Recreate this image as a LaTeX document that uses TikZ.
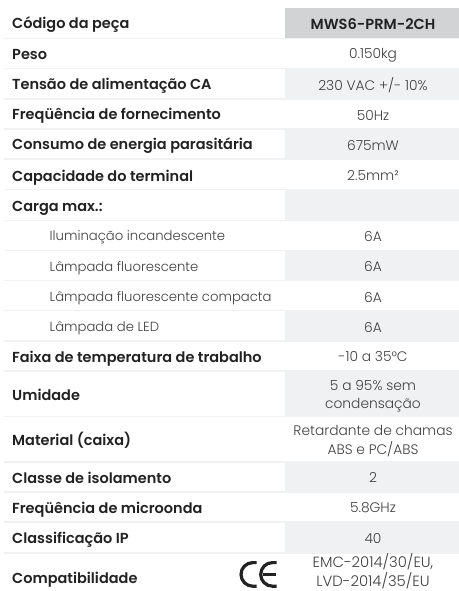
\documentclass[tikz,border=0pt]{standalone}
\usepackage{fontspec}
\setmainfont{Poppins SemiBold}[BoldFont={Poppins SemiBold}]
\newfontfamily\lightf{Poppins Light}
\definecolor{rowgray}{HTML}{F0F1F3}
\definecolor{headgray}{HTML}{D2D3D5}
\definecolor{labelc}{HTML}{222222}
\definecolor{valuec}{HTML}{404040}
\tikzset{
  lab/.style={anchor=base west,inner sep=0pt,text=labelc,font=\fontsize{14.5bp}{15bp}\selectfont},
  sub/.style={anchor=base west,inner sep=0pt,text=valuec,font=\fontsize{13.2bp}{15bp}\selectfont\lightf},
  val/.style={anchor=center,inner sep=0pt,text=valuec,align=center,font=\fontsize{13.8bp}{18.5bp}\selectfont\lightf},
  head/.style={anchor=center,inner sep=0pt,text=labelc,align=center,font=\fontsize{14.6bp}{15bp}\selectfont},
  compl/.style={anchor=center,inner sep=0pt,text=valuec,align=center,font=\fontsize{14.8bp}{19bp}\selectfont\lightf},
  sep/.style={rowgray,line width=1.4bp},
  shade/.style={fill=rowgray,draw=none},
}
\begin{document}
\begin{tikzpicture}[x=1bp,y=-1bp]
\useasboundingbox (0,0) rectangle (459,591);
\fill[white] (0,0) rectangle (459,591);
% shaded cells
\fill[headgray] (285,8) rectangle (459,38.5);
\foreach \a/\b in {69/99,129/159,189/220,250/280,311/341,371/416,462/492,522/553}
  \fill[shade] (285,\a) rectangle (459,\b);
% separators
\foreach \yy in {38.8,68.8,99,129,159,189.3,220.3,250.3,280.3,310.7,341,371,416.3,461.8,492,522,552.8}
  \draw[sep] (4,\yy) -- (459,\yy);
% labels
\node[lab] (l1) at (12,29) {Código da peça};
\node[lab] (l2) at (12,60) {Peso};
\node[lab] (l3) at (12,90) {Tensão de alimentação CA};
\node[lab] (l4) at (12,120) {Freqüência de fornecimento};
\node[lab] (l5) at (12,150) {Consumo de energia parasitária};
\node[lab] (l6) at (12,181) {Capacidade do terminal};
\node[lab] (l7) at (12,211) {Carga max.:};
\node[sub] (l8) at (49.5,240) {Iluminação incandescente};
\node[sub] (l9) at (49.5,271) {Lâmpada fluorescente};
\node[sub] (l10) at (49.5,301) {Lâmpada fluorescente compacta};
\node[sub] (l11) at (49.5,331) {Lâmpada de LED};
\node[lab] (l12) at (12,362) {Faixa de temperatura de trabalho};
\node[lab] (l13) at (12,400) {Umidade};
\node[lab] (l14) at (12,445) {Material (caixa)};
\node[lab] (l15) at (12,483) {Classe de isolamento};
\node[lab] (l16) at (12,513) {Freqüência de microonda};
\node[lab] (l18) at (12,543) {Classificação IP};
\node[lab] (l17) at (12,583) {Compatibilidade};
% values
\node[head] (v1) at (373,24) {MWS6-PRM-2CH};
\node[val] (v2) at (373,55.5) {0.150kg};
\node[val] (v3) at (373,85.5) {230 VAC +/- 10\%};
\node[val] (v4) at (373,115.5) {50Hz};
\node[val] (v5) at (373,145.5) {675mW};
\node[val] (v6) at (373,176) {2.5mm²};
\node[val] (v8) at (373,236) {6A};
\node[val] (v9) at (373,266.5) {6A};
\node[val] (v10) at (373,297) {6A};
\node[val] (v11) at (373,327) {6A};
\node[val] (v12) at (373,357) {-10 a 35°C};
\node[val] (v13) at (373,396) {5 a 95\% sem\\condensação};
\node[val] (v14) at (373,441) {Retardante de chamas\\ABS e PC/ABS};
\node[val] (v15) at (373,477) {2};
\node[val] (v16) at (373,508) {5.8GHz};
\node[val] (v17) at (373,538) {40};
\node[compl] (v18) at (373,571) {EMC-2014/30/EU,\\LVD-2014/35/EU};
% CE mark
\draw[labelc,line width=3.2bp] (256.5,586.2) -- (252.8,586.2) arc[start angle=90,end angle=270,radius=11.8] -- (256.5,562.6);
\draw[labelc,line width=3.2bp] (276.5,586.2) -- (272.5,586.2) arc[start angle=90,end angle=270,radius=11.8] -- (276.5,562.6);
\draw[labelc,line width=2.6bp] (263,574.4) -- (275.5,574.4);
\end{tikzpicture}
\end{document}
